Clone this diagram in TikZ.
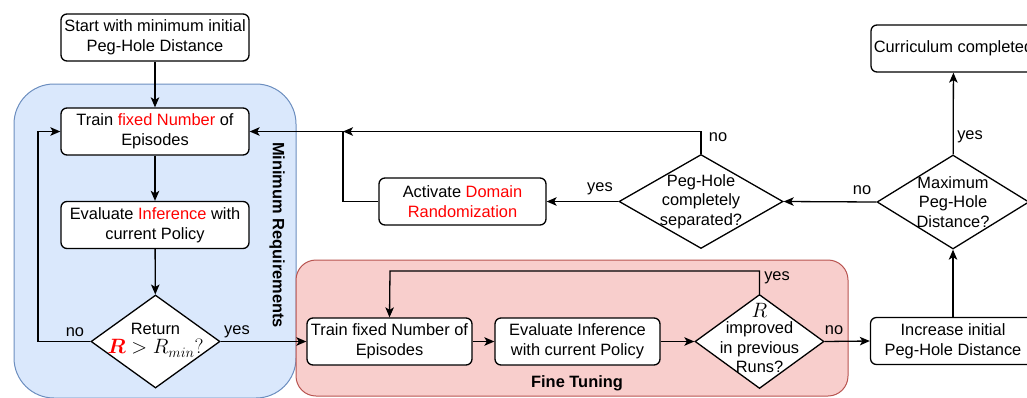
\documentclass[tikz,border=0pt]{standalone}
\usepackage{amsmath}
\usepackage{fontspec}
\setmainfont{Liberation Sans}
\usetikzlibrary{shapes.geometric,arrows.meta}
\definecolor{minfill}{HTML}{DAE8FC}
\definecolor{minline}{HTML}{6C8EBF}
\definecolor{ftfill}{HTML}{F8CECC}
\definecolor{ftline}{HTML}{B85450}
\definecolor{hl}{HTML}{FF0000}
\newcommand{\mathbig}[1]{{\fontsize{19.5}{20}\selectfont$#1$}}

\begin{document}
\begin{tikzpicture}[x=1pt,y=-1pt,
  every node/.style={font=\fontsize{16.4}{19.6}\selectfont},
  proc/.style={draw, rounded corners=6pt, fill=white, line width=1.3pt,
    inner sep=0pt, align=center, minimum height=47pt},
  dia/.style={draw, diamond, fill=white, line width=1.3pt, inner sep=0pt},
  txt/.style={align=center, inner sep=0pt},
  lbl/.style={inner sep=0pt},
  group/.style={line width=1pt},
  grouptitle/.style={inner sep=0pt, font=\fontsize{16.4}{19.6}\selectfont\bfseries},
  flow/.style={line width=1.3pt, -{Stealth[length=10pt,width=8.5pt,inset=2.5pt]}},
]
\clip (0,0) rectangle (1027,397);

% group backgrounds
\draw[group, draw=minline, fill=minfill, rounded corners=40pt]
  (14,84) rectangle (296,398);
\draw[group, draw=ftline, fill=ftfill, rounded corners=20pt]
  (296,260) rectangle (848,396);
\node[grouptitle, rotate=-90] (mintitle) at (277,235) {Minimum Requirements};
\node[grouptitle] (fttitle) at (577,383) {Fine Tuning};

% minimum requirement stage
\node[proc, minimum width=188pt] (start) at (155,37.5)
  {Start with minimum initial\\Peg-Hole Distance};
\node[proc, minimum width=188pt] (train) at (155,131.5)
  {Train {\color{hl}fixed Number} of\\Episodes};
\node[proc, minimum width=188pt] (eval) at (155,225)
  {Evaluate {\color{hl}Inference} with\\current Policy};
\node[dia, minimum width=129pt, minimum height=93pt] (ret) at (155.5,341.5) {};
\node[txt] (rettext) at (155.5,340)
  {Return\\\mathbig{{\color{hl}\boldsymbol{R}} > R_{min}?}};

% fine tuning stage
\node[proc, minimum width=165pt] (ftrain) at (389.5,341.5)
  {Train fixed Number of\\Episodes};
\node[proc, minimum width=165pt] (feval) at (577.5,341.5)
  {Evaluate Inference\\with current Policy};
\node[dia, minimum width=129pt, minimum height=94pt] (imp) at (759.5,341.5) {};
\node[txt] (imptext) at (759.5,338)
  {\mathbig{R}\\[-3pt]improved\\in previous\\Runs?};

% curriculum stage
\node[proc, minimum width=165pt] (inc) at (953,341)
  {Increase initial\\Peg-Hole Distance};
\node[dia, minimum width=152pt, minimum height=94pt] (max) at (953,202) {};
\node[txt] (maxtext) at (953,202) {Maximum\\Peg-Hole\\Distance?};
\node[proc, minimum width=165pt] (cur) at (953.5,48.5) {Curriculum completed};
\node[dia, minimum width=164pt, minimum height=94pt] (peg) at (701,201.5) {};
\node[txt] (pegtext) at (701,201.5) {Peg-Hole\\completely\\separated?};
\node[proc, minimum width=167pt] (dr) at (462.5,201.5)
  {Activate {\color{hl}Domain}\\{\color{hl}Randomization}};

\coordinate (loopleft) at (38,341.5);
\coordinate (fttop) at (390,271);
\coordinate (junction) at (343,131.5);

% connectors
\draw[flow] (start) -- (train);
\draw[flow] (train) -- (eval);
\draw[flow] (eval) -- (ret);
\draw[flow] (ret.west) -- (loopleft) |- (train.west);
\draw[flow] (ret.east) -- (ret.east -| ftrain.west);
\draw[flow] (ftrain) -- (feval);
\draw[flow] (feval) -- (imp);
\draw[flow] (imp.north) |- (fttop) -- (ftrain.north);
\draw[flow] (imp.east) -- (inc.west);
\draw[flow] (inc) -- (max);
\draw[flow] (max) -- (cur);
\draw[flow] (max.west) -- (peg.east);
\draw[flow] (peg.west) -- (dr.east);
\draw[flow] (peg.north) |- (junction);
\draw[flow] (dr.west) -| (junction) -- (train.east);

% branch labels
\node[lbl] (l1) at (75,332) {no};
\node[lbl] (l2) at (237,332) {yes};
\node[lbl] (l3) at (777,278) {yes};
\node[lbl] (l4) at (834,330) {no};
\node[lbl] (l5) at (718,137) {no};
\node[lbl] (l6) at (600,189) {yes};
\node[lbl] (l7) at (862,190) {no};
\node[lbl] (l8) at (970,137) {yes};
\end{tikzpicture}
\end{document}
